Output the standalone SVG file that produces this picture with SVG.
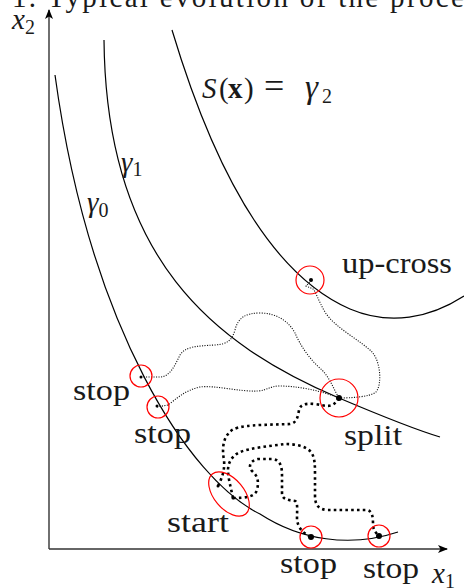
<svg xmlns="http://www.w3.org/2000/svg" width="464" height="588" viewBox="0 0 464 588">
<style>
  .t { font-family: "Liberation Serif", "Times New Roman", serif; font-size: 29px; fill: #1a1a1a; }
  .it { font-style: italic; }
  .sub { font-size: 20px; font-style: normal; }
  .lvl { fill: none; stroke: #000; stroke-width: 1.2; }
  .axis { fill: none; stroke: #333; stroke-width: 1.4; }
  .ring { fill: none; stroke: #f00; stroke-width: 1.2; }
  .dot { fill: #000; }
  .thin { fill: none; stroke: #111; stroke-width: 1.1; stroke-dasharray: 1.1 1.4; }
  .thick { fill: none; stroke: #000; stroke-width: 2.6; stroke-dasharray: 2.6 3.2; }
</style>
<defs>
  <marker id="arr" viewBox="0 0 10 8" refX="9" refY="4" markerWidth="10" markerHeight="8" markerUnits="userSpaceOnUse" orient="auto">
    <path d="M0,0 L10,4 L0,8 L2.5,4 z" fill="#000"/>
  </marker>
</defs>

<text class="t" x="12" y="7" font-size="30" textLength="479" lengthAdjust="spacing">1. Typical evolution of the process</text>

<g id="axes">
  <path class="axis" d="M49,549 L447,549" marker-end="url(#arr)"/>
  <path class="axis" d="M49,549 L49,10" marker-end="url(#arr)"/>
  <text class="t it" x="12" y="29">x<tspan class="sub" dy="5">2</tspan></text>
  <text class="t it" x="432" y="583">x<tspan class="sub" dy="5">1</tspan></text>
</g>

<g id="level-curves">
  <path id="gamma0" class="lvl" d="M55,75 C90,330 190,480 260,514 C300,540 350,548 398,532"/>
  <path id="gamma1" class="lvl" d="M104,40 C106,260 215,345 339,398 C372,412 410,428 440,437"/>
  <path id="gamma2" class="lvl" d="M172,30 C205,140 260,270 350,309 C390,326 430,318 464,296"/>
  <text class="t it" x="87" y="212" font-size="33">γ<tspan class="sub" dy="5">0</tspan></text>
  <text class="t it" x="121" y="172" font-size="33">γ<tspan class="sub" dy="4">1</tspan></text>
  <text class="t" y="98" font-size="31"><tspan class="it" x="202">S</tspan><tspan x="219">(</tspan><tspan x="228" font-weight="bold">x</tspan><tspan x="244">)</tspan><tspan x="264" font-size="36">=</tspan><tspan class="it" x="305" font-size="33">γ</tspan><tspan class="sub" x="322" dy="5">2</tspan></text>
</g>

<g id="connectors">
  <path class="thin" d="M141,377 L160,377 C170,377 175,365 180,355 C185,347 195,346 215,345 C228,344 232,340 235,330 C238,318 245,313 260,313 C275,313 288,320 295,333 C300,345 310,360 322,370 C330,378 334,390 339,398"/>
  <path class="thin" d="M157,407 L168,405 C175,400 185,390 200,387 C215,385 240,392 258,391 C268,390 270,386 280,386 C295,386 320,390 339,398"/>
  <path class="thin" d="M339,398 C350,398 370,397 376,392 C382,385 381,362 372,352 C360,340 335,328 325,312 C318,300 316,292 313,289 L306,286 L311,281"/>
  <path class="thick" d="M218,486 C222,478 225,470 224,460 C222,450 223,440 228,434 C232,428 240,426 260,425 L290,424 C297,423 298,416 299,410 C300,405 305,403 315,404 C325,405 332,410 339,398"/>
  <path class="thick" d="M233,498 C245,498 255,497 257,490 C259,482 258,476 252,471 C248,466 250,461 258,459 L273,459 C280,460 282,466 282,475 L282,493 C282,499 287,500 295,501 C298,502 297,510 297,518 C297,526 302,533 311,537"/>
  <path class="thick" d="M233,498 C231,488 228,478 228,470 C228,462 233,455 240,452 C250,448 270,446 285,444 C295,444 305,446 310,451 C315,456 315,465 315,475 L315,495 C315,505 318,509 327,510 L367,510 C372,511 373,516 373,524 C373,530 376,533 379,536"/>
</g>

<g id="start">
  <ellipse class="ring" cx="229" cy="494" rx="26" ry="15" transform="rotate(50 229 494)"/>
  <circle class="dot" cx="218" cy="486" r="1.5"/>
  <circle class="dot" cx="233" cy="498" r="1.5"/>
  <text class="t" x="167" y="532" textLength="62" lengthAdjust="spacingAndGlyphs">start</text>
</g>
<g id="stop-left-1">
  <circle class="ring" cx="141" cy="376" r="11"/>
  <circle class="dot" cx="141" cy="377" r="1.5"/>
  <text class="t" x="73" y="400" textLength="57" lengthAdjust="spacingAndGlyphs">stop</text>
</g>
<g id="stop-left-2">
  <circle class="ring" cx="158" cy="407" r="11"/>
  <circle class="dot" cx="157" cy="406" r="1.5"/>
  <text class="t" x="134" y="443" textLength="57" lengthAdjust="spacingAndGlyphs">stop</text>
</g>
<g id="split">
  <circle class="ring" cx="339" cy="398" r="19"/>
  <circle class="dot" cx="339" cy="398" r="3"/>
  <text class="t" x="344" y="445" textLength="58" lengthAdjust="spacingAndGlyphs">split</text>
</g>
<g id="up-cross">
  <circle class="ring" cx="310" cy="280" r="14"/>
  <circle class="dot" cx="311" cy="280" r="2"/>
  <text class="t" x="342" y="273" textLength="110" lengthAdjust="spacingAndGlyphs">up-cross</text>
</g>
<g id="stop-bottom-1">
  <circle class="ring" cx="311" cy="537" r="11"/>
  <circle class="dot" cx="311" cy="537" r="3"/>
  <text class="t" x="280" y="573" textLength="57" lengthAdjust="spacingAndGlyphs">stop</text>
</g>
<g id="stop-bottom-2">
  <circle class="ring" cx="379" cy="536" r="11"/>
  <circle class="dot" cx="379" cy="536" r="3"/>
  <text class="t" x="363" y="578" textLength="56" lengthAdjust="spacingAndGlyphs">stop</text>
</g>
</svg>
